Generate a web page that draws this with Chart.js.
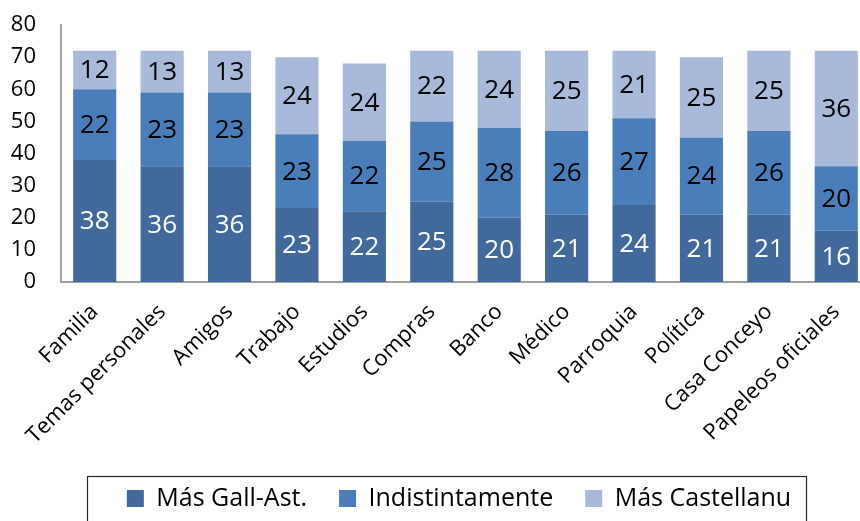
<!DOCTYPE html>
<html>
<head>
<meta charset="utf-8">
<script src="https://cdn.jsdelivr.net/npm/chart.js@4/dist/chart.umd.min.js"></script>
<style>
  html, body { margin: 0; padding: 0; background: #fff; overflow: hidden; }
  #wrap { width: 902px; height: 521px; }
</style>
</head>
<body>
<div id="wrap"><canvas id="chart" width="902" height="521"></canvas></div>
<script>
// categories + series
const categorias = ['Familia', 'Temas personales', 'Amigos', 'Trabajo', 'Estudios', 'Compras',
                    'Banco', 'Médico', 'Parroquia', 'Política', 'Casa Conceyo', 'Papeleos oficiales'];
const masGallAst      = [38, 36, 36, 23, 22, 25, 20, 21, 24, 21, 21, 16];
const indistintamente = [22, 23, 23, 23, 22, 25, 28, 26, 27, 24, 26, 20];
const masCastellanu   = [12, 13, 13, 24, 24, 22, 24, 25, 21, 25, 25, 36];
const yTicks = [0, 10, 20, 30, 40, 50, 60, 70, 80];

const FONT = "'Open Sans', sans-serif";

// value labels in the middle of each segment
const segmentLabels = {
  id: 'segmentLabels',
  afterDatasetsDraw(chart) {
    const ctx = chart.ctx;
    ctx.save();
    ctx.font = `26px ${FONT}`;
    ctx.textAlign = 'center';
    ctx.textBaseline = 'middle';
    chart.data.datasets.forEach((ds, i) => {
      const meta = chart.getDatasetMeta(i);
      ctx.fillStyle = i === 0 ? '#ffffff' : '#000000';
      meta.data.forEach((bar, j) => {
        ctx.fillText(ds.data[j], bar.x, (bar.y + bar.base) / 2 + 1);
      });
    });
    ctx.restore();
  }
};

// nudge legend and draw the frame round it
const legendFrame = {
  id: 'legendFrame',
  afterLayout(chart) {
    chart.legend.left += 24;
    chart.legend.right += 24;
  },
  afterDraw(chart) {
    const boxes = chart.legend.legendHitBoxes;
    if (!boxes || !boxes.length) return;
    const l = Math.min(...boxes.map(b => b.left));
    const r = Math.max(...boxes.map(b => b.left + b.width));
    const t = Math.min(...boxes.map(b => b.top));
    const ctx = chart.ctx;
    ctx.save();
    ctx.strokeStyle = '#262626';
    ctx.lineWidth = 1.2;
    ctx.strokeRect(Math.round(l - 40) + 0.5, Math.round(t - 10) + 0.5, Math.round(r - l + 55), 80);
    ctx.restore();
  }
};

new Chart(document.getElementById('chart'), {
  type: 'bar',
  data: {
    labels: categorias,
    datasets: [
      { label: 'Más Gall-Ast.',   data: masGallAst,      backgroundColor: '#41699b' },
      { label: 'Indistintamente', data: indistintamente, backgroundColor: '#4a7ebb' },
      { label: 'Más Castellanu',  data: masCastellanu,   backgroundColor: '#a9b9d9' },
    ],
  },
  options: {
    responsive: false,
    animation: false,
    layout: { padding: { top: 25, right: 32, left: 0, bottom: 0 } },
    datasets: { bar: { categoryPercentage: 1, barPercentage: 0.64 } },
    scales: {
      x: {
        stacked: true,
        grid: { display: false, drawTicks: false },
        border: { color: '#a0a0a0', width: 2 },
        ticks: { font: { family: FONT, size: 22 }, color: '#000', maxRotation: 45, minRotation: 45, autoSkip: false, padding: 17 },
        afterFit: s => { s.height = 172; s.paddingTop = 0; },
      },
      y: {
        stacked: true,
        min: yTicks[0],
        max: yTicks[yTicks.length - 1],
        grid: { display: false, drawTicks: false },
        border: { color: '#a0a0a0', width: 2 },
        afterBuildTicks: s => { s.ticks = yTicks.map(v => ({ value: v })); },
        ticks: { font: { family: FONT, size: 22 }, color: '#000', padding: 25 },
        afterFit: s => { s.width = 61; s.paddingTop = 0; s.paddingBottom = 0; },
      },
    },
    plugins: {
      legend: {
        position: 'bottom',
        labels: { font: { family: FONT, size: 25 }, color: '#000', boxWidth: 17, boxHeight: 17, padding: 32 },
      },
      tooltip: { enabled: false },
    },
  },
  plugins: [segmentLabels, legendFrame],
});
</script>
</body>
</html>
